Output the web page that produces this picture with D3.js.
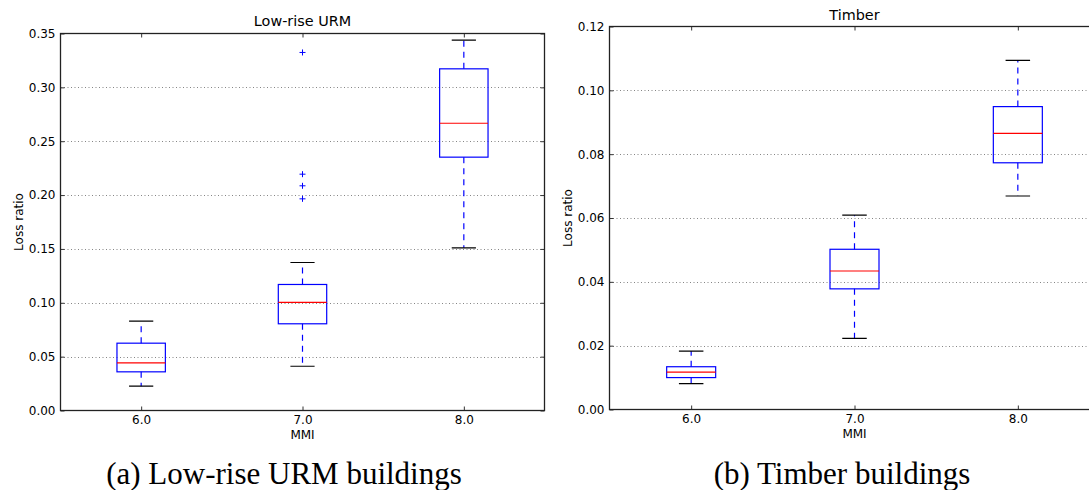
<!DOCTYPE html>
<html>
<head>
<meta charset="utf-8">
<script src="https://cdn.jsdelivr.net/npm/d3@7/dist/d3.min.js"></script>
<style>
  html, body { margin: 0; padding: 0; background: #fff; }
  svg { display: block; }
  .cap { font-family: "Liberation Serif", "Times New Roman", Times, serif; }
</style>
</head>
<body>
<svg id="chart" width="1089" height="490"></svg>
<script>
// ---------------- data ----------------
const categories = [6.0, 7.0, 8.0];
const xTickLabels = ["6.0", "7.0", "8.0"];

// Low-rise URM
const urmWhiskerLow  = [0.0226, 0.0411, 0.1510];
const urmQ1          = [0.0359, 0.0805, 0.2352];
const urmMedian      = [0.0443, 0.1003, 0.2667];
const urmQ3          = [0.0625, 0.1170, 0.3172];
const urmWhiskerHigh = [0.0829, 0.1374, 0.3438];
const urmOutliers    = [[], [0.3324, 0.2194, 0.2086, 0.1965], []];
const urmYTicks      = [0.00, 0.05, 0.10, 0.15, 0.20, 0.25, 0.30, 0.35];

// Timber
const timWhiskerLow  = [0.0081, 0.0223, 0.0669];
const timQ1          = [0.0100, 0.0378, 0.0773];
const timMedian      = [0.0117, 0.0434, 0.0865];
const timQ3          = [0.0134, 0.0502, 0.0949];
const timWhiskerHigh = [0.0183, 0.0609, 0.1094];
const timOutliers    = [[], [], []];
const timYTicks      = [0.00, 0.02, 0.04, 0.06, 0.08, 0.10, 0.12];

const titles = ["Low-rise URM", "Timber"];
const captions = ["(a) Low-rise URM buildings", "(b) Timber buildings"];
const xLabel = "MMI";
const yLabel = "Loss ratio";

// ---------------- drawing ----------------
const svg = d3.select("#chart");
const sans = "DejaVu Sans, sans-serif";

function panel(cfg) {
  const g = svg.append("g");
  const x = d3.scaleLinear().domain([5.5, 8.5]).range([cfg.left, cfg.right]);
  const y = d3.scaleLinear().domain([0, cfg.yMax]).range([cfg.bottom, cfg.top]);

  const clipId = "clip" + cfg.id;
  svg.append("clipPath").attr("id", clipId).append("rect")
    .attr("x", cfg.left).attr("y", cfg.top)
    .attr("width", cfg.right - cfg.left).attr("height", cfg.bottom - cfg.top);

  // grid lines
  g.append("g").selectAll("line").data(cfg.yTicks.filter(v => v > 0 && v < cfg.yMax - 1e-9)).join("line")
    .attr("x1", cfg.left).attr("x2", cfg.right)
    .attr("y1", d => Math.round(y(d)) + 0.5).attr("y2", d => Math.round(y(d)) + 0.5)
    .attr("stroke", "#666").attr("stroke-width", 0.8).attr("stroke-dasharray", "1,2.5");

  // y ticks (left & right, inward)
  const yAxisL = d3.axisLeft(y).tickValues(cfg.yTicks).tickFormat(d3.format(".2f")).tickSizeInner(-4).tickSizeOuter(0).tickPadding(5);
  const ga = g.append("g").attr("transform", `translate(${cfg.left},0)`).call(yAxisL);
  ga.select(".domain").remove();
  ga.selectAll("text").attr("font-family", sans).attr("font-size", 12).attr("fill", "#000");
  ga.selectAll("line").attr("stroke", "#333");

  const yAxisR = d3.axisRight(y).tickValues(cfg.yTicks).tickFormat("").tickSizeInner(-4).tickSizeOuter(0);
  const gr = g.append("g").attr("transform", `translate(${cfg.right},0)`).call(yAxisR);
  gr.select(".domain").remove();
  gr.selectAll("line").attr("stroke", "#333");

  // x ticks (bottom & top, inward)
  const xAxisB = d3.axisBottom(x).tickValues(categories).tickFormat((d, i) => xTickLabels[i]).tickSizeInner(-4).tickSizeOuter(0).tickPadding(5);
  const gb = g.append("g").attr("transform", `translate(0,${cfg.bottom})`).call(xAxisB);
  gb.select(".domain").remove();
  gb.selectAll("text").attr("font-family", sans).attr("font-size", 12).attr("fill", "#000");
  gb.selectAll("line").attr("stroke", "#333");

  const xAxisT = d3.axisTop(x).tickValues(categories).tickFormat("").tickSizeInner(-4).tickSizeOuter(0);
  const gt = g.append("g").attr("transform", `translate(0,${cfg.top})`).call(xAxisT);
  gt.select(".domain").remove();
  gt.selectAll("line").attr("stroke", "#333");

  // boxes
  const halfW = (x(1.15) - x(1.0));
  const capW = halfW / 2;
  const boxes = g.append("g").attr("clip-path", `url(#${clipId})`);
  const data = categories.map((c, i) => ({
    c, lo: cfg.wl[i], q1: cfg.q1[i], med: cfg.med[i], q3: cfg.q3[i], hi: cfg.wh[i], out: cfg.out[i]
  }));
  const bx = boxes.selectAll("g.box").data(data).join("g").attr("class", "box");

  bx.append("line")
    .attr("x1", d => x(d.c)).attr("x2", d => x(d.c))
    .attr("y1", d => y(d.q3)).attr("y2", d => y(d.hi))
    .attr("stroke", "#0000ff").attr("stroke-width", 1.2).attr("stroke-dasharray", "6,5");
  bx.append("line")
    .attr("x1", d => x(d.c)).attr("x2", d => x(d.c))
    .attr("y1", d => y(d.q1)).attr("y2", d => y(d.lo))
    .attr("stroke", "#0000ff").attr("stroke-width", 1.2).attr("stroke-dasharray", "6,5");
  bx.append("line")
    .attr("x1", d => x(d.c) - capW).attr("x2", d => x(d.c) + capW)
    .attr("y1", d => y(d.hi)).attr("y2", d => y(d.hi))
    .attr("stroke", "#000").attr("stroke-width", 1.2);
  bx.append("line")
    .attr("x1", d => x(d.c) - capW).attr("x2", d => x(d.c) + capW)
    .attr("y1", d => y(d.lo)).attr("y2", d => y(d.lo))
    .attr("stroke", "#000").attr("stroke-width", 1.2);
  bx.append("rect")
    .attr("x", d => x(d.c) - halfW).attr("width", 2 * halfW)
    .attr("y", d => y(d.q3)).attr("height", d => y(d.q1) - y(d.q3))
    .attr("fill", "none").attr("stroke", "#0000ff").attr("stroke-width", 1.2);
  bx.append("line")
    .attr("x1", d => x(d.c) - halfW).attr("x2", d => x(d.c) + halfW)
    .attr("y1", d => y(d.med)).attr("y2", d => y(d.med))
    .attr("stroke", "#ff0000").attr("stroke-width", 1.2);
  bx.each(function(d) {
    const sel = d3.select(this);
    d.out.forEach(v => {
      sel.append("path")
        .attr("d", `M${x(d.c) - 3},${y(v)}H${x(d.c) + 3}M${x(d.c)},${y(v) - 3}V${y(v) + 3}`)
        .attr("stroke", "#0000ff").attr("stroke-width", 1).attr("fill", "none");
    });
  });

  // frame
  g.append("rect")
    .attr("x", cfg.left).attr("y", cfg.top)
    .attr("width", cfg.right - cfg.left).attr("height", cfg.bottom - cfg.top)
    .attr("fill", "none").attr("stroke", "#222").attr("stroke-width", 1.3);

  g.append("text").attr("x", (cfg.left + cfg.right) / 2).attr("y", cfg.titleY)
    .attr("text-anchor", "middle").attr("font-family", sans).attr("font-size", 14.4).attr("fill", "#000")
    .text(cfg.title);
  g.append("text").attr("x", (cfg.left + cfg.right) / 2).attr("y", cfg.bottom + 28)
    .attr("text-anchor", "middle").attr("font-family", sans).attr("font-size", 12).attr("fill", "#000")
    .text(xLabel);
  g.append("text").attr("transform", `translate(${cfg.yLabelX},${(cfg.top + cfg.bottom) / 2}) rotate(-90)`)
    .attr("text-anchor", "middle").attr("font-family", sans).attr("font-size", 12).attr("fill", "#000")
    .text(yLabel);
  g.append("text").attr("class", "cap").attr("x", cfg.capX).attr("y", 484)
    .attr("text-anchor", "middle")
    .attr("font-size", 31).attr("fill", "#000")
    .text(cfg.caption);
}

panel({
  id: "a", left: 60.5, right: 544.5, top: 33.5, bottom: 410.5, yMax: 0.35,
  yTicks: urmYTicks, wl: urmWhiskerLow, q1: urmQ1, med: urmMedian, q3: urmQ3, wh: urmWhiskerHigh, out: urmOutliers,
  title: titles[0], titleY: 26, yLabelX: 23, caption: captions[0], capX: 284
});
panel({
  id: "b", left: 609.5, right: 1099.5, top: 26.5, bottom: 409.5, yMax: 0.12,
  yTicks: timYTicks, wl: timWhiskerLow, q1: timQ1, med: timMedian, q3: timQ3, wh: timWhiskerHigh, out: timOutliers,
  title: titles[1], titleY: 20, yLabelX: 572, caption: captions[1], capX: 842
});
</script>
</body>
</html>
